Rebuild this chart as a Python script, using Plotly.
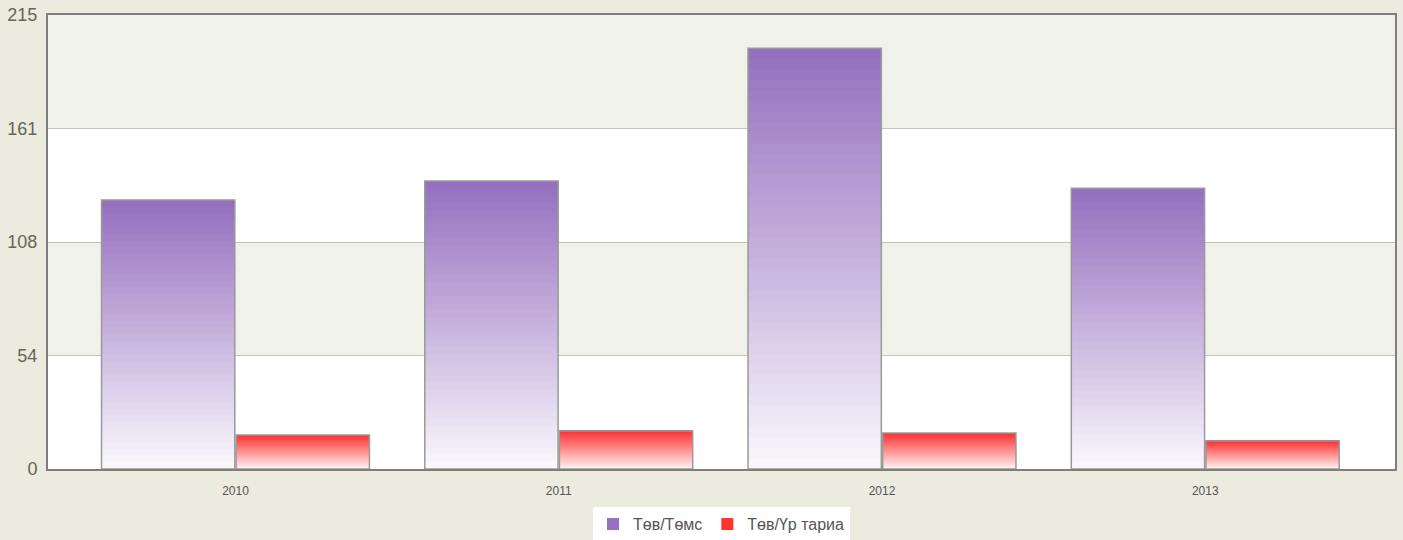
import plotly.graph_objects as go

# Data
years = ["2010", "2011", "2012", "2013"]
tov_tomss = [127.4, 136.4, 199.3, 133.0]
tov_ur_taria = [16.1, 18.0, 17.0, 13.3]
series_names = ["Төв/Төмс", "Төв/Үр тариа"]

y_tick_vals = [0, 53.75, 107.5, 161.25, 215]
y_tick_text = ["0", "54", "108", "161", "215"]

# gradient ends (bottom -> top) for each series
grad = {
    "p": ((250, 248, 253), (148, 110, 190)),
    "r": ((255, 244, 244), (255, 48, 48)),
}
N_STEPS = 40


def mix(c0, c1, t):
    return "rgb({},{},{})".format(*[round(a + (b - a) * t) for a, b in zip(c0, c1)])


def add_gradient_bars(fig, values, name, key):
    c0, c1 = grad[key]
    # each step runs to the top of the bar, the next one covers it -> no seams
    for i in range(N_STEPS):
        t = (i + 0.5) / N_STEPS
        fig.add_trace(
            go.Bar(
                x=years,
                y=[v * (1 - i / N_STEPS) for v in values],
                base=[v * i / N_STEPS for v in values],
                offsetgroup=key,
                marker=dict(color=mix(c0, c1, t), line=dict(width=0)),
                name=name,
                legendgroup=key,
                showlegend=(i == N_STEPS - 1),
                hoverinfo="skip",
            )
        )
    # outline on top
    fig.add_trace(
        go.Bar(
            x=years,
            y=values,
            offsetgroup=key,
            marker=dict(color="rgba(0,0,0,0)", line=dict(color="#9a9a9a", width=1.5)),
            name=name,
            legendgroup=key,
            showlegend=False,
        )
    )


fig = go.Figure()
add_gradient_bars(fig, tov_tomss, series_names[0], "p")
add_gradient_bars(fig, tov_ur_taria, series_names[1], "r")

# alternating background bands
shapes = []
for k in range(len(y_tick_vals) - 1):
    if k % 2 == 1:
        shapes.append(
            dict(
                type="rect", xref="paper", yref="y", layer="below",
                x0=0, x1=1, y0=y_tick_vals[k], y1=y_tick_vals[k + 1],
                fillcolor="#f0f1e9", line=dict(width=0),
            )
        )

fig.update_layout(
    width=1403,
    height=540,
    margin=dict(l=48, r=8, t=15, b=71, autoexpand=False),
    paper_bgcolor="#ebebe0",
    plot_bgcolor="#ffffff",
    barmode="group",
    bargap=0.167,
    bargroupgap=0.01,
    shapes=shapes,
    font=dict(family="Arial, Liberation Sans, sans-serif", color="#555555"),
    legend=dict(
        orientation="h",
        x=0.5,
        xanchor="center",
        y=-0.084,
        yanchor="top",
        bgcolor="#ffffff",
        font=dict(size=16, color="#555555"),
        itemwidth=30,
    ),
    xaxis=dict(
        range=[-0.58, 3.587],
        showline=True, linecolor="#7f7f7f", linewidth=2, mirror=True,
        ticks="", tickfont=dict(size=12, color="#555555"),
        ticklabelstandoff=10,
    ),
    yaxis=dict(
        range=[0, 215],
        tickvals=y_tick_vals,
        ticktext=y_tick_text,
        showline=True, linecolor="#7f7f7f", linewidth=2, mirror=True,
        gridcolor="#c4c4b8", gridwidth=1, zeroline=False,
        tickfont=dict(size=18, color="#666655"),
        ticks="", ticklabelstandoff=5,
    ),
)

fig.write_html(
    "out.html",
    config={"displayModeBar": False},
    post_script="document.body.style.margin='0';",
)
